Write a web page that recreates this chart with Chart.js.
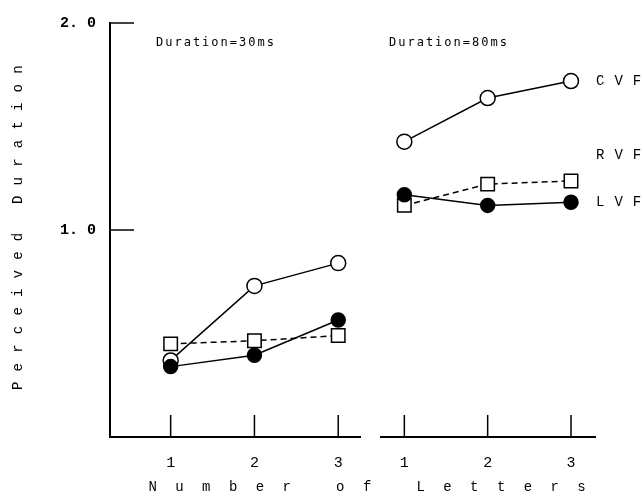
<!DOCTYPE html>
<html>
<head>
<meta charset="utf-8">
<script src="https://cdn.jsdelivr.net/npm/chart.js@4.4.0/dist/chart.umd.min.js"></script>
<style>
  html, body { margin: 0; padding: 0; background: #fff; }
  #wrap { position: relative; width: 643px; height: 496px; }
  #c30 { position: absolute; left: 0; top: 0; }
  #c80 { position: absolute; left: 370px; top: 0; }
</style>
</head>
<body>
<div id="wrap">
  <canvas id="c30" width="643" height="496"></canvas>
  <canvas id="c80" width="273" height="496"></canvas>
</div>
<script>
// === Data ===
const letters = [1, 2, 3];
const yTicks = [1, 2];
const seriesNames = ['CVF', 'RVF', 'LVF'];

const cvf30 = [0.37, 0.73, 0.84];
const rvf30 = [0.45, 0.465, 0.49];
const lvf30 = [0.34, 0.395, 0.565];

const cvf80 = [1.39, 1.595, 1.675];
const rvf80 = [1.09, 1.19, 1.205];
const lvf80 = [1.14, 1.09, 1.105];

const MONO = 'Liberation Mono';

// === Helpers ===
function pts(arr) {
  return arr.map((v, i) => ({ x: letters[i], y: v }));
}

function makeSets(lvf, rvf, cvf) {
  // first dataset is drawn on top, so filled circles cover the others
  return [
    { label: 'LVF', data: pts(lvf), borderColor: '#000', borderWidth: 1.5,
      pointRadius: 7, pointBackgroundColor: '#000', pointBorderColor: '#000', pointBorderWidth: 1.5 },
    { label: 'RVF', data: pts(rvf), borderColor: '#000', borderWidth: 1.5, borderDash: [6, 4],
      pointStyle: 'rect', pointRadius: 9.5, pointBackgroundColor: '#fff', pointBorderColor: '#000', pointBorderWidth: 1.5 },
    { label: 'CVF', data: pts(cvf), borderColor: '#000', borderWidth: 1.5,
      pointRadius: 7.5, pointBackgroundColor: '#fff', pointBorderColor: '#000', pointBorderWidth: 1.5 }
  ];
}

// ticks pointing into the plot, like the original
const inwardTicks = {
  id: 'inwardTicks',
  afterDraw(chart) {
    const { ctx, scales, chartArea } = chart;
    ctx.save();
    ctx.strokeStyle = '#000';
    ctx.lineWidth = 1.5;
    scales.x.ticks.forEach(t => {
      const px = scales.x.getPixelForValue(t.value);
      ctx.beginPath();
      ctx.moveTo(px, chartArea.bottom);
      ctx.lineTo(px, chartArea.bottom - 22);
      ctx.stroke();
    });
    if (scales.y.options.display) {
      scales.y.ticks.forEach(t => {
        const py = scales.y.getPixelForValue(t.value);
        ctx.beginPath();
        ctx.moveTo(chartArea.left, py);
        ctx.lineTo(chartArea.left + 24, py);
        ctx.stroke();
      });
    }
    ctx.restore();
  }
};

function spacedText(ctx, text, x, y, font, spacing, angle) {
  ctx.save();
  ctx.font = font;
  ctx.fillStyle = '#000';
  ctx.letterSpacing = spacing + 'px';
  ctx.textAlign = 'left';
  ctx.textBaseline = 'middle';
  ctx.translate(x, y);
  if (angle) ctx.rotate(angle);
  ctx.fillText(text, 0, 0);
  ctx.restore();
}

function baseOptions(xMin, xMax, showY, pad) {
  return {
    responsive: false,
    animation: false,
    devicePixelRatio: 1,
    layout: { padding: pad },
    plugins: { legend: { display: false }, tooltip: { enabled: false } },
    scales: {
      x: {
        type: 'linear', min: xMin, max: xMax,
        afterBuildTicks: s => { s.ticks = letters.map(v => ({ value: v })); },
        afterFit: s => { s.height = 59; },
        grid: { display: false, drawTicks: false },
        border: { display: true, color: '#000', width: 2 },
        ticks: { color: '#000', padding: 17, font: { family: MONO, size: 15 } }
      },
      y: {
        display: showY, min: 0, max: 2,
        afterBuildTicks: s => { s.ticks = yTicks.map(v => ({ value: v })); },
        afterFit: s => { s.width = showY ? 110 : 0; },
        grid: { display: false, drawTicks: false },
        border: { display: true, color: '#000', width: 2 },
        ticks: {
          color: '#000', padding: 14, font: { family: MONO, size: 15, weight: 'bold' },
          callback: v => v.toFixed(1).replace('.', '. ')
        }
      }
    }
  };
}

// === Left panel: 30 ms, with the y axis and both axis titles ===
new Chart(document.getElementById('c30'), {
  type: 'line',
  data: { datasets: makeSets(lvf30, rvf30, cvf30) },
  options: baseOptions(0.276, 3.26, true, { top: 12, right: 283, left: 0, bottom: 0 }),
  plugins: [inwardTicks, {
    id: 'texts30',
    afterDraw(chart) {
      const ctx = chart.ctx;
      spacedText(ctx, 'Duration=30ms', 156, 43, '12px DejaVu Sans Mono', 2);
      spacedText(ctx, 'Perceived Duration', 18, 390, '14px ' + MONO, 10.2, -Math.PI / 2);
      spacedText(ctx, 'Number of Letters', 148.5, 487, '14px ' + MONO, 18.4);
    }
  }]
});

// === Right panel: 80 ms, with the series labels ===
new Chart(document.getElementById('c80'), {
  type: 'line',
  data: { datasets: makeSets(lvf80, rvf80, cvf80) },
  options: baseOptions(0.72, 3.288, false, { top: 12, right: 48, left: 8, bottom: 0 }),
  plugins: [inwardTicks, {
    id: 'texts80',
    afterDraw(chart) {
      const ctx = chart.ctx;
      const y = chart.scales.y;
      const labelAt = [1.675, 1.327, 1.105];
      spacedText(ctx, 'Duration=80ms', 19, 43, '12px DejaVu Sans Mono', 2);
      seriesNames.forEach((name, i) => {
        spacedText(ctx, name, chart.chartArea.right + 1, y.getPixelForValue(labelAt[i]), '14px ' + MONO, 10);
      });
    }
  }]
});
</script>
</body>
</html>
